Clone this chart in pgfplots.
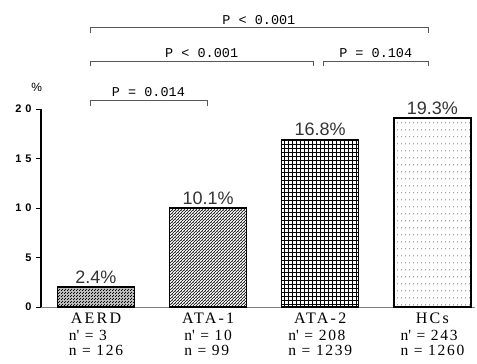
\documentclass[border=0pt]{standalone}
\usepackage{pgfplots}
\pgfplotsset{compat=1.18}
\usepackage{fontspec}
\setmainfont{Liberation Serif}
\newfontfamily\monof{Liberation Mono}
\newfontfamily\sansf{Liberation Sans}
\newfontfamily\tickf[LetterSpace=35]{Liberation Sans}
\newfontfamily\catf[LetterSpace=14]{Liberation Serif}
\newfontfamily\nf[LetterSpace=11]{Liberation Serif}
\usetikzlibrary{calc,patterns}

\pgfdeclarepatternformonly{mygrid}{\pgfqpoint{-1pt}{-1pt}}{\pgfqpoint{5pt}{5pt}}{\pgfqpoint{4pt}{4pt}}{%
  \pgfsetlinewidth{0.6pt}%
  \pgfpathmoveto{\pgfqpoint{0pt}{0pt}}\pgfpathlineto{\pgfqpoint{0pt}{4.1pt}}%
  \pgfpathmoveto{\pgfqpoint{0pt}{0pt}}\pgfpathlineto{\pgfqpoint{4.1pt}{0pt}}%
  \pgfusepath{stroke}}
\pgfdeclarepatternformonly{mydiag}{\pgfqpoint{-1pt}{-1pt}}{\pgfqpoint{4pt}{4pt}}{\pgfqpoint{3pt}{3pt}}{%
  \pgfsetlinewidth{0.45pt}%
  \pgfpathmoveto{\pgfqpoint{0pt}{0pt}}\pgfpathlineto{\pgfqpoint{3.1pt}{3.1pt}}%
  \pgfpathmoveto{\pgfqpoint{1.5pt}{0pt}}\pgfpathlineto{\pgfqpoint{1.5pt}{1.2pt}}%
  \pgfusepath{stroke}}
\pgfdeclarepatternformonly{mydots}{\pgfqpoint{0pt}{0pt}}{\pgfqpoint{4pt}{7pt}}{\pgfqpoint{4pt}{7pt}}{%
  \pgfpathcircle{\pgfqpoint{2pt}{3.5pt}}{0.5pt}%
  \pgfusepath{fill}}
\pgfdeclarepatternformonly{mydense}{\pgfqpoint{0pt}{0pt}}{\pgfqpoint{2.5pt}{2.5pt}}{\pgfqpoint{2.5pt}{2.5pt}}{%
  \pgfpathcircle{\pgfqpoint{0.6pt}{0.6pt}}{0.7pt}%
  \pgfpathcircle{\pgfqpoint{1.85pt}{1.85pt}}{0.7pt}%
  \pgfusepath{fill}}

\newcommand\cat[3]{{\catf #1}\\[0pt]{\nf\fontsize{15.5}{15}\selectfont\begin{tabular}[t]{@{}l@{}}n\textquotesingle{} = #2\\n = #3\end{tabular}}}
\newcommand\brk[4]{%
  \draw[gray!70!black, line width=0.7pt] (axis cs:#1,#3-0.55) -- (axis cs:#1,#3) -- (axis cs:#2,#3) -- (axis cs:#2,#3-0.55);
  \node[font=\monof\fontsize{13.5}{14}\selectfont, anchor=base] at (axis cs:{(#1+#2)/2},#3+0.35) {#4};}

\begin{document}
\begin{tikzpicture}
\begin{axis}[
  name=ax,
  scale only axis,
  width=434pt, height=198pt,
  xmin=-0.49, xmax=3.38,
  ymin=0, ymax=20,
  axis x line=bottom, axis y line=left,
  x axis line style={gray, line width=0.8pt, -},
  y axis line style={black, line width=1.6pt, -},
  xtick={0,1,2,3},
  xticklabels={{\cat{AERD}{3}{126}},{\cat{ATA-1}{10}{99}},{\cat{ATA-2}{208}{1239}},{\cat{HCs}{243}{1260}}},
  xticklabel style={align=center, anchor=north, yshift=3pt, font=\fontsize{16}{17}\selectfont},
  xtick style={draw=none},
  ytick={0,5,10,15,20},
  ytick style={black, line width=0.8pt},
  tick align=outside,
  major tick length=5pt,
  /pgf/number format/assume math mode=true,
  yticklabel style={font=\tickf\bfseries\fontsize{11}{12}\selectfont, xshift=-1pt},
  clip=false,
  ybar, bar width=77pt, bar shift=0pt,
  nodes near coords,
  point meta=explicit symbolic,
  every node near coord/.append style={font=\sansf\fontsize{18}{20}\selectfont, text=black!80, anchor=center, yshift=10pt},
]
\addplot[draw=black, line width=1.5pt, fill=black!25, postaction={pattern=mydense}] coordinates {(0,2.0) [2.4\%]};
\addplot[draw=black, line width=1.5pt, pattern=mydiag] coordinates {(1,10.0) [10.1\%]};
\addplot[draw=black, line width=1.5pt, pattern=mygrid] coordinates {(2,16.9) [16.8\%]};
\addplot[draw=black, line width=1.5pt, pattern=mydots] coordinates {(3,19.1) [19.3\%]};
\brk{-0.054}{0.99}{20.9}{P = 0.014}
\brk{-0.054}{1.94}{24.85}{P < 0.001}
\brk{2.03}{2.96}{24.85}{P = 0.104}
\brk{-0.054}{2.96}{28.2}{P < 0.001}
\node[font=\sansf\fontsize{12}{12}\selectfont] at (rel axis cs:-0.01,1.11) {\%};
\end{axis}
\pgfresetboundingbox
\path[use as bounding box] ($(ax.south west)+(-41pt,-57pt)$) rectangle ($(ax.south west)+(436pt,307pt)$);
\end{tikzpicture}
\end{document}
